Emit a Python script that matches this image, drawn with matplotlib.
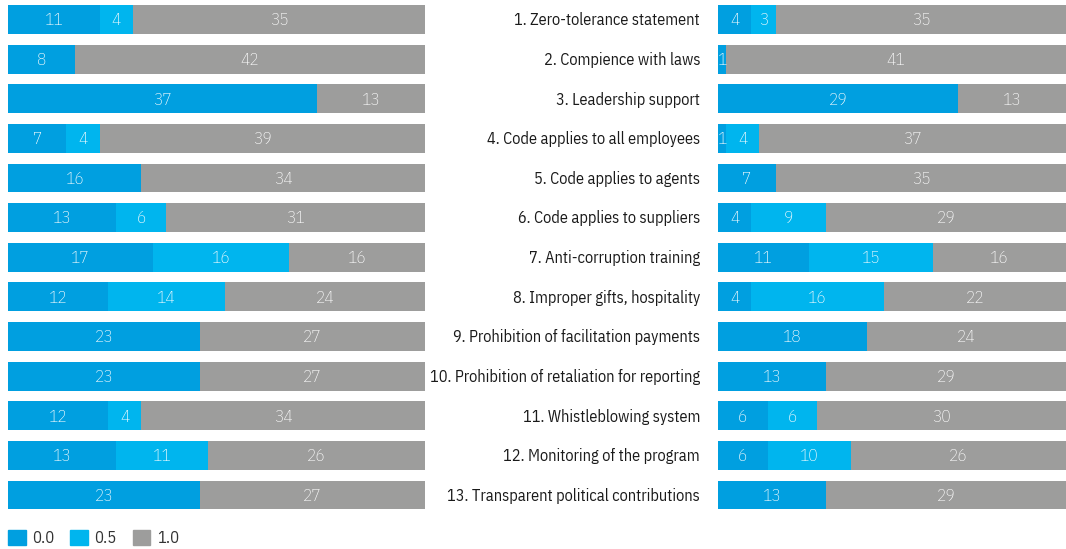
import matplotlib.pyplot as plt
from matplotlib.patches import Patch

labels = ['1. Zero-tolerance statement', '2. Compience with laws', '3. Leadership support',
          '4. Code applies to all employees', '5. Code applies to agents',
          '6. Code applies to suppliers', '7. Anti-corruption training',
          '8. Improper gifts, hospitality', '9. Prohibition of facilitation payments',
          '10. Prohibition of retaliation for reporting', '11. Whistleblowing system',
          '12. Monitoring of the program', '13. Transparent political contributions']

# left group (50 companies)
left_00 = [11, 8, 37, 7, 16, 13, 17, 12, 23, 23, 12, 13, 23]
left_05 = [4, 0, 0, 4, 0, 6, 16, 14, 0, 0, 4, 11, 0]
left_10 = [35, 42, 13, 39, 34, 31, 16, 24, 27, 27, 34, 26, 27]

# right group (42 companies)
right_00 = [4, 1, 29, 1, 7, 4, 11, 4, 18, 13, 6, 6, 13]
right_05 = [3, 0, 0, 4, 0, 9, 15, 16, 0, 0, 6, 10, 0]
right_10 = [35, 41, 13, 37, 35, 29, 16, 22, 24, 29, 30, 26, 29]

legend_labels = ['0.0', '0.5', '1.0']
colors = ['#009FE0', '#00B5EE', '#9D9D9C']

plt.rcParams['font.family'] = ['IBM Plex Sans Condensed', 'DejaVu Sans']

W, H = 1066, 549
fig = plt.figure(figsize=(W / 100, H / 100), dpi=100)

# rows: centre of row 0 at 19.5 px, row 12 at 495 px
step = (495 - 19.5) / 12
ax_top, ax_bot = 0, 522
ylim = ((ax_bot - 19.5) / step, (ax_top - 19.5) / step)
ax_l = fig.add_axes([8 / W, 1 - ax_bot / H, 417 / W, (ax_bot - ax_top) / H])
ax_r = fig.add_axes([718 / W, 1 - ax_bot / H, 348 / W, (ax_bot - ax_top) / H])


def draw(ax, series):
    n = len(labels)
    totals = [sum(s[i] for s in series) for i in range(n)]
    left = [0.0] * n
    for s, c in zip(series, colors):
        share = [s[i] / totals[i] for i in range(n)]
        bars = ax.barh(range(n), share, left=left, height=0.73, color=c, linewidth=0)
        for i, b in enumerate(bars):
            if s[i] > 0:
                ax.text(b.get_x() + b.get_width() / 2, i + 0.02, str(s[i]), ha='center', va='center',
                        color='white', fontsize=12.5, fontweight='light')
        left = [left[i] + share[i] for i in range(n)]
    ax.set_xlim(0, 1)
    ax.set_ylim(*ylim)
    ax.axis('off')


draw(ax_l, [left_00, left_05, left_10])
draw(ax_r, [right_00, right_05, right_10])

for i, lab in enumerate(labels):
    ax_r.text(-18 / 348, i + 0.02, lab, ha='right', va='center', fontsize=11.7, color='#1a1a1a',
              transform=ax_r.get_yaxis_transform(), clip_on=False)

handles = [Patch(color=c) for c in colors]
fig.legend(handles, legend_labels, loc='lower left', bbox_to_anchor=(3 / W, -2 / H), ncol=3,
           frameon=False, fontsize=12, handlelength=1.05, handleheight=1.05,
           handletextpad=0.4, columnspacing=0.95, borderaxespad=0, borderpad=0.3,
           labelcolor='#333333')

fig.savefig('out.png', dpi=100)
